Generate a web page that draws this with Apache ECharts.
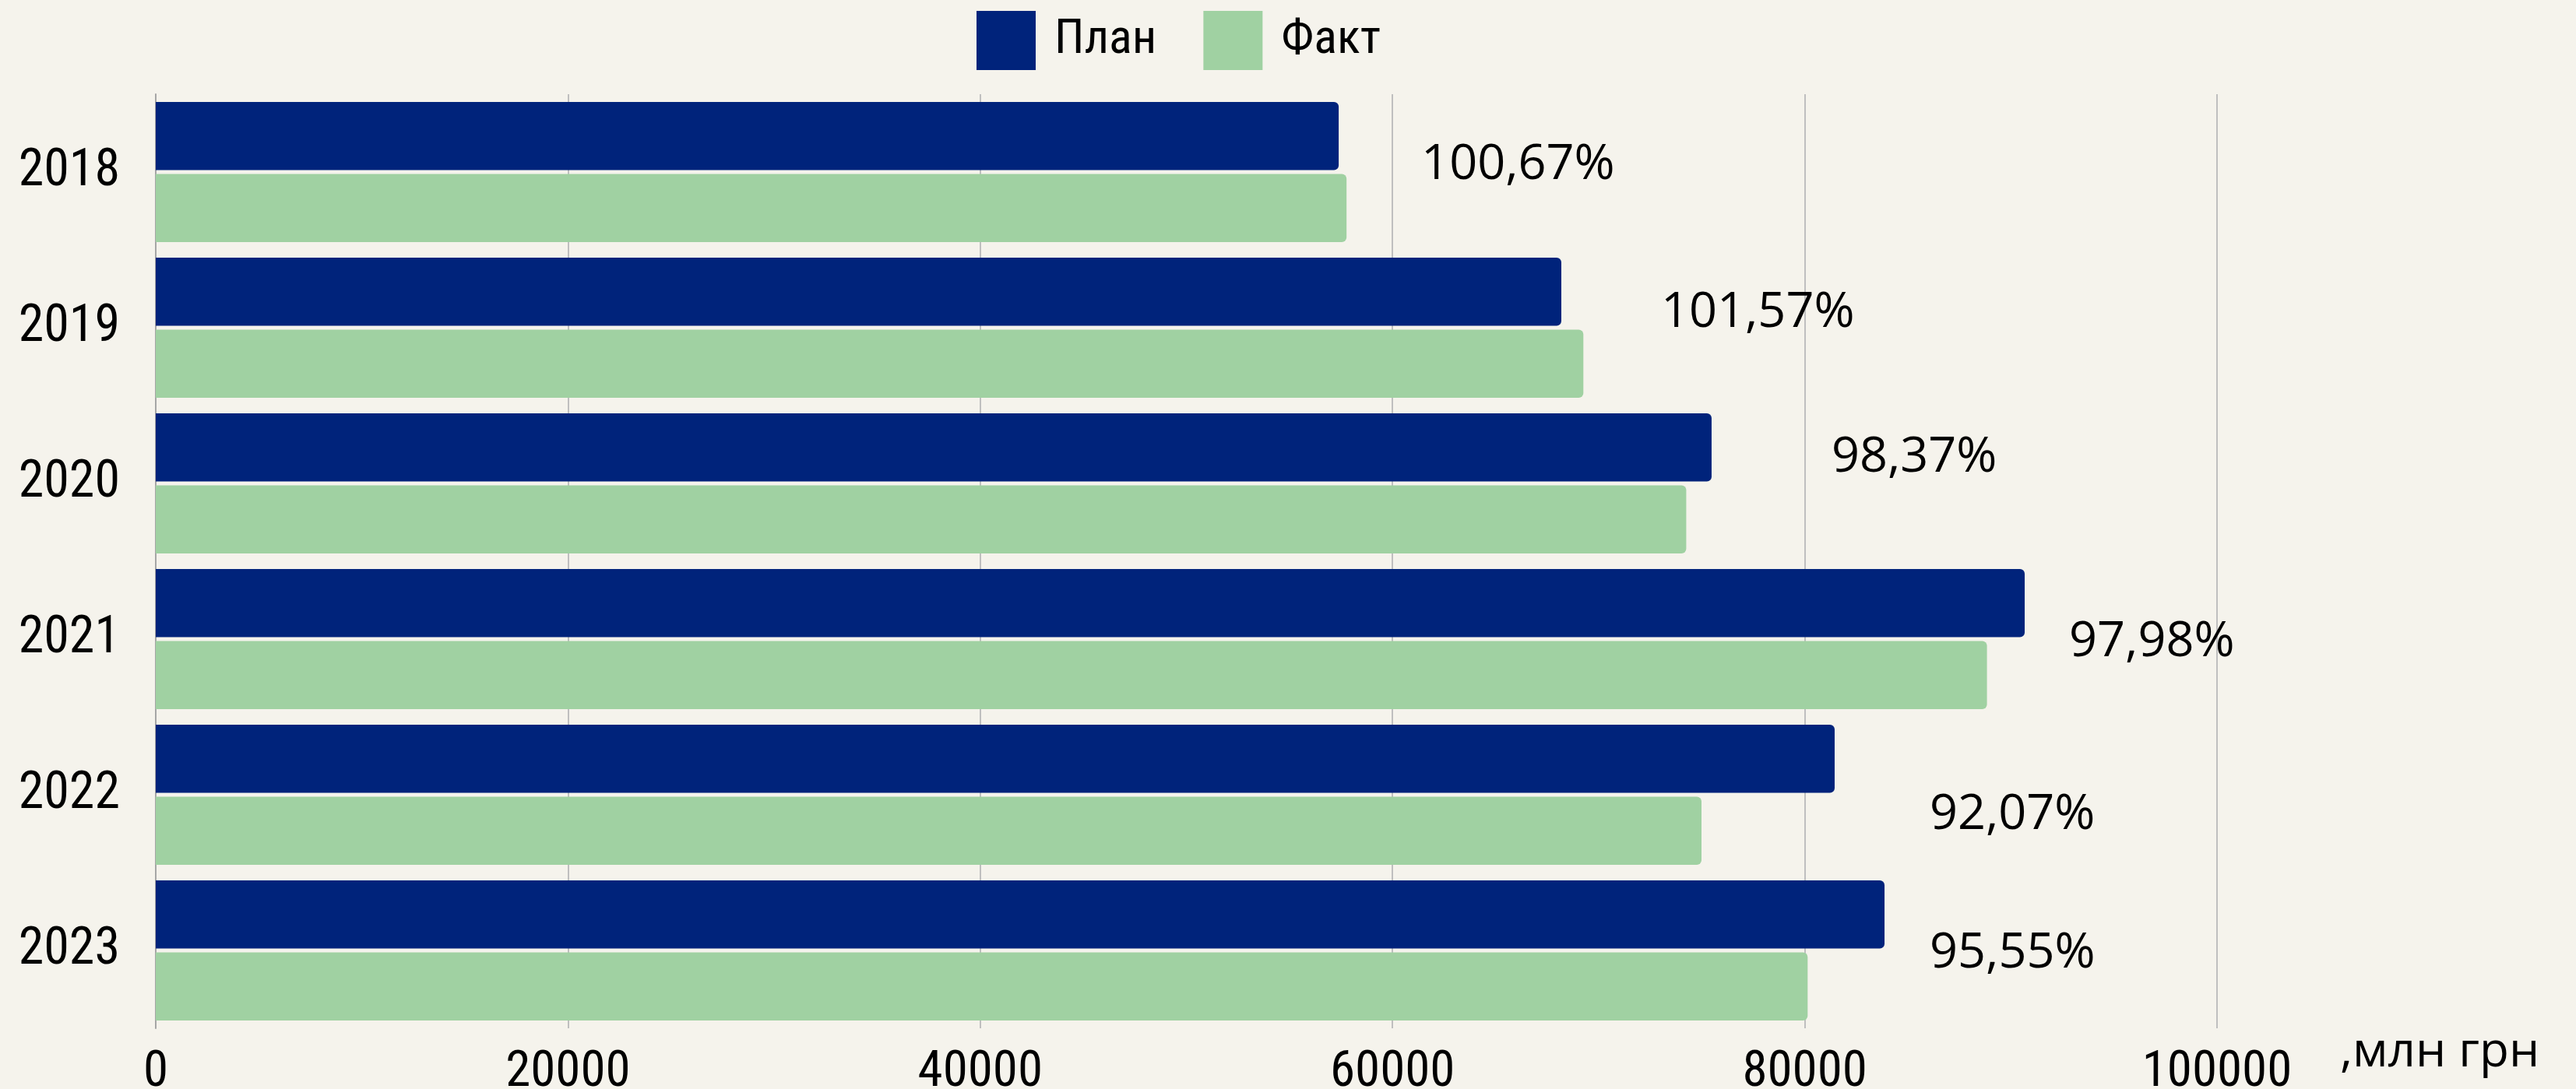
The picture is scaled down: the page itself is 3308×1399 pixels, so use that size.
<!DOCTYPE html>
<html>
<head>
<meta charset="utf-8">
<script src="https://cdn.jsdelivr.net/npm/echarts@6/dist/echarts.min.js"></script>
<style>
  html, body { margin: 0; padding: 0; background: #F5F3EC; }
  #chart { width: 3308px; height: 1399px; }
</style>
</head>
<body>
<div id="chart"></div>
<script>
// дані
var years = ['2018', '2019', '2020', '2021', '2022', '2023'];
var plan = [57390, 68190, 75480, 90670, 81450, 83870];
var fact = [57770, 69260, 74250, 88840, 74990, 80140];
var pct = ['100,67%', '101,57%', '98,37%', '97,98%', '92,07%', '95,55%'];
var xTicks = [0, 20000, 40000, 60000, 80000, 100000];

// зсуви підписів відсотків (як розставлено вручну)
var labelNudge = [[106, 37], [128, 27], [154, 13], [57, 50], [122, 72], [58, 50]];

var axisFont = "'Roboto Condensed', 'Roboto', sans-serif";

var chart = echarts.init(document.getElementById('chart'));

var planData = plan.map(function (v, i) {
    return { value: v, label: { offset: labelNudge[i] } };
});

var option = {
    backgroundColor: '#F5F3EC',
    animation: false,
    legend: {
        left: 1249,
        top: 9,
        itemWidth: 76,
        itemHeight: 76,
        itemGap: 60,
        icon: 'rect',
        textStyle: { fontFamily: axisFont, fontSize: 62, color: '#000', padding: [0, 0, 0, 19] },
        data: ['План', 'Факт']
    },
    grid: { left: 200, right: 461, top: 121, bottom: 78, outerBoundsMode: 'none' },
    xAxis: {
        type: 'value',
        min: xTicks[0],
        max: xTicks[xTicks.length - 1],
        interval: xTicks[1] - xTicks[0],
        name: ',млн грн',
        nameLocation: 'end',
        nameGap: 158,
        nameTextStyle: {
            fontFamily: "'Open Sans', sans-serif", fontSize: 62, color: '#000',
            verticalAlign: 'top', align: 'left'
        },
        axisLine: { show: false },
        axisTick: { show: false },
        axisLabel: {
            fontFamily: axisFont, fontSize: 65, color: '#000', margin: 25,
            formatter: function (v) { return String(v); }
        },
        splitLine: { lineStyle: { color: '#BFBFBF', width: 2 } }
    },
    yAxis: {
        type: 'category',
        data: years,
        inverse: true,
        axisLine: { show: true, lineStyle: { color: '#A6A6A6', width: 2 } },
        axisTick: { show: false },
        axisLabel: { fontFamily: axisFont, fontSize: 66, color: '#000', margin: 46 }
    },
    series: [
        {
            name: 'План',
            type: 'bar',
            data: planData,
            barGap: '5.7%',
            barCategoryGap: '10%',
            itemStyle: { color: '#00237B', borderRadius: [0, 6, 6, 0] },
            label: {
                show: true,
                position: 'right',
                distance: 0,
                fontFamily: "'Open Sans', sans-serif",
                fontSize: 63,
                color: '#000',
                formatter: function (p) { return pct[p.dataIndex]; }
            }
        },
        {
            name: 'Факт',
            type: 'bar',
            data: fact,
            barGap: '5.7%',
            barCategoryGap: '10%',
            itemStyle: { color: '#A0D1A2', borderRadius: [0, 6, 6, 0] }
        }
    ]
};

chart.setOption(option);
</script>
</body>
</html>
